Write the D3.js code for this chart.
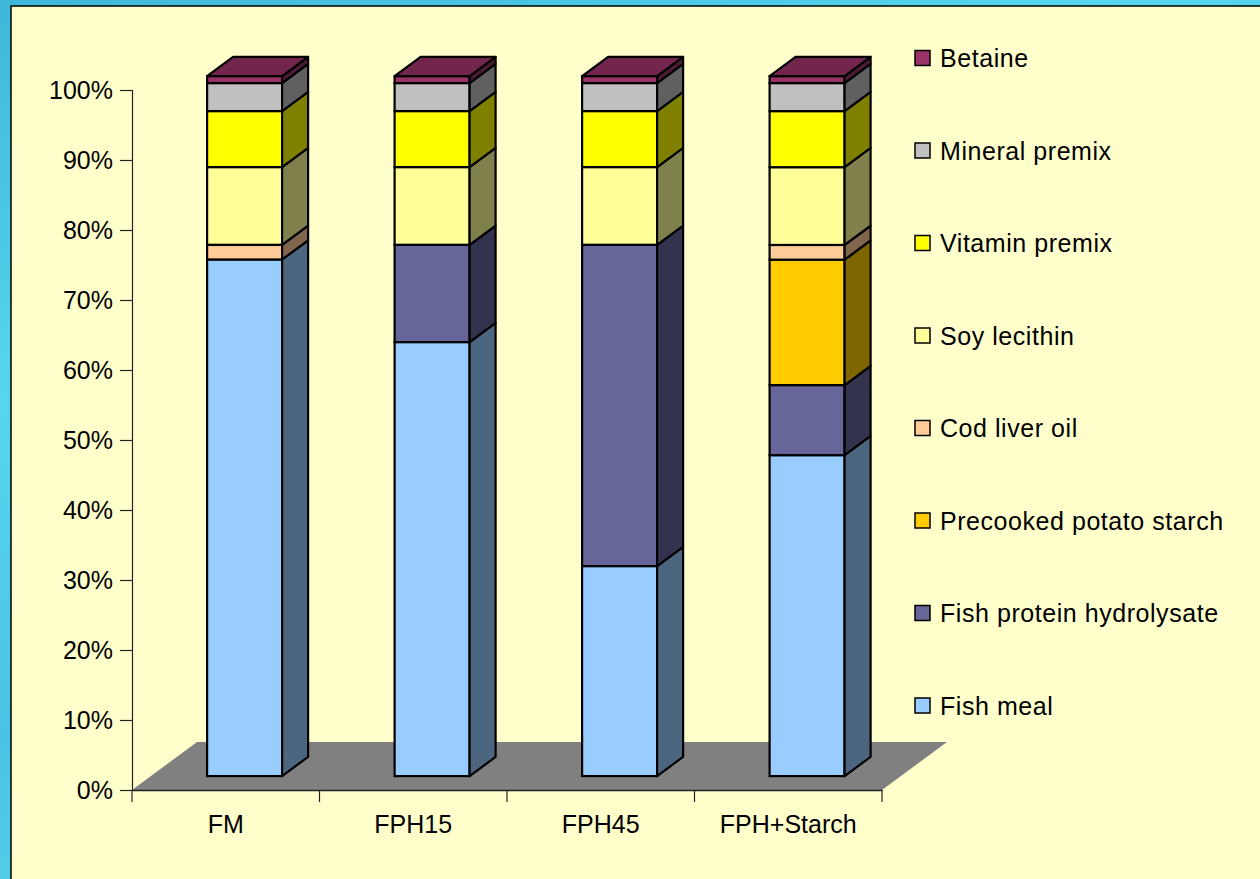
<!DOCTYPE html>
<html>
<head>
<meta charset="utf-8">
<script src="https://cdn.jsdelivr.net/npm/d3@7"></script>
<style>
  html, body { margin: 0; padding: 0; }
  body {
    width: 1260px; height: 879px; overflow: hidden;
    background: linear-gradient(160deg, #3fb7d8 0%, #55d6ee 30%, #4cc3e4 55%, #5ad8ec 80%, #44bcdc 100%);
  }
  svg { display: block; }
  text { font-family: "Liberation Sans", Arial, sans-serif; fill: #000; }
</style>
</head>
<body>
<svg id="chart" width="1260" height="879"></svg>
<script>
// Diet formulations (% of ingredients)
const diets = ["FM", "FPH15", "FPH45", "FPH+Starch"];
const fishMeal = [73.8, 62.0, 30.0, 45.8];
const fishProteinHydrolysate = [0, 13.9, 45.9, 10.0];
const potatoStarch = [0, 0, 0, 17.9];
const codLiverOil = [2.1, 0, 0, 2.1];
const soyLecithin = [11.1, 11.1, 11.1, 11.1];
const vitaminPremix = [8, 8, 8, 8];
const mineralPremix = [4, 4, 4, 4];
const betaine = [1, 1, 1, 1];

const seriesNames = ["Fish meal", "Fish protein hydrolysate", "Precooked potato starch",
  "Cod liver oil", "Soy lecithin", "Vitamin premix", "Mineral premix", "Betaine"];
const seriesValues = [fishMeal, fishProteinHydrolysate, potatoStarch, codLiverOil,
  soyLecithin, vitaminPremix, mineralPremix, betaine];
const seriesColors = ["#99ccff", "#666699", "#ffcc00", "#ffcc99", "#ffff99", "#ffff00", "#c0c0c0", "#993366"];
const yTicks = [0, 0.1, 0.2, 0.3, 0.4, 0.5, 0.6, 0.7, 0.8, 0.9, 1.0];

const rows = diets.map((d, i) => {
  const r = { diet: d };
  seriesNames.forEach((s, k) => { r[s] = seriesValues[k][i]; });
  return r;
});

const svg = d3.select("#chart");

// chart panel
svg.append("rect").attr("x", 11).attr("y", 6).attr("width", 1300).attr("height", 900)
  .attr("fill", "#ffffcc").attr("stroke", "#000").attr("stroke-width", 1.5);

const plot = { left: 132, right: 882, top: 90, bottom: 790 };
const depth = { x: 65, y: -48 };         // floor depth vector
const barFront = 0.29, barDepth = 0.4;   // bar placement inside the depth

const x = d3.scaleBand().domain(diets).range([plot.left, plot.right])
  .paddingInner(0.6).paddingOuter(0.3);
const y = d3.scaleLinear().domain([0, 1]).range([plot.bottom, plot.top]);

const stack = d3.stack().keys(seriesNames).offset(d3.stackOffsetExpand);
const layers = stack(rows);

// floor
svg.append("path")
  .attr("d", d3.line()([
    [plot.left, plot.bottom], [plot.right, plot.bottom],
    [plot.right + depth.x, plot.bottom + depth.y], [plot.left + depth.x, plot.bottom + depth.y]
  ]) + "Z")
  .attr("fill", "#808080");

// y axis
const yAxis = svg.append("g").attr("transform", `translate(${plot.left},0)`)
  .call(d3.axisLeft(y).tickValues(yTicks).tickFormat(d3.format(".0%")).tickSize(12).tickPadding(7));
yAxis.select(".domain").attr("stroke", "#222").attr("stroke-width", 1.2);
yAxis.selectAll(".tick line").attr("stroke", "#222").attr("stroke-width", 1.2);
yAxis.selectAll(".tick text").attr("font-size", 25).attr("font-family", "Liberation Sans, Arial, sans-serif").attr("fill", "#000");

// x axis: labels centred on bands, ticks on band boundaries
const xAxis = svg.append("g").attr("transform", `translate(0,${plot.bottom})`)
  .call(d3.axisBottom(x).tickSize(0).tickPadding(25));
xAxis.select(".domain").attr("stroke", "#222").attr("stroke-width", 1.5);
xAxis.selectAll(".tick text").attr("font-size", 25).attr("font-family", "Liberation Sans, Arial, sans-serif").attr("fill", "#000");
const step = x.step();
xAxis.selectAll("line.bound").data(d3.range(diets.length + 1)).join("line")
  .attr("class", "bound")
  .attr("x1", k => plot.left + k * step).attr("x2", k => plot.left + k * step)
  .attr("y1", 0).attr("y2", 12).attr("stroke", "#222").attr("stroke-width", 1.2);

// 3D stacked bars
const shade = (c, f) => { const o = d3.rgb(c); return d3.rgb(o.r * f, o.g * f, o.b * f).toString(); };
const ox = depth.x * barFront, oy = depth.y * barFront;
const dx = depth.x * barDepth, dy = depth.y * barDepth;
const w = x.bandwidth();
const bars = svg.append("g");

diets.forEach((diet, i) => {
  const x0 = x(diet) + ox;
  const g = bars.append("g");
  let topY = null, topColor = null;
  layers.forEach((layer, k) => {
    const seg = layer[i];
    if (seg[1] - seg[0] <= 0) return;
    const yb = y(seg[0]) + oy, yt = y(seg[1]) + oy;
    const col = seriesColors[k];
    g.append("rect").attr("x", x0).attr("y", yt).attr("width", w).attr("height", yb - yt)
      .attr("fill", col).attr("stroke", "#000").attr("stroke-width", 2.2);
    g.append("path")
      .attr("d", d3.line()([[x0 + w, yb], [x0 + w + dx, yb + dy], [x0 + w + dx, yt + dy], [x0 + w, yt]]) + "Z")
      .attr("fill", shade(col, 0.5)).attr("stroke", "#000").attr("stroke-width", 2.2)
      .attr("stroke-linejoin", "round");
    topY = yt; topColor = col;
  });
  g.append("path")
    .attr("d", d3.line()([[x0, topY], [x0 + dx, topY + dy], [x0 + w + dx, topY + dy], [x0 + w, topY]]) + "Z")
    .attr("fill", shade(topColor, 0.75)).attr("stroke", "#000").attr("stroke-width", 2.2)
    .attr("stroke-linejoin", "round");
});

// legend (top entry is the top of the stack)
const legendOrder = seriesNames.map((n, k) => ({ name: n, color: seriesColors[k] })).reverse();
const legend = svg.append("g").selectAll("g").data(legendOrder).join("g")
  .attr("transform", (d, k) => `translate(915,${58 + k * 92.5})`);
legend.append("rect").attr("x", 0).attr("y", -7.5).attr("width", 15).attr("height", 15)
  .attr("fill", d => d.color).attr("stroke", "#000").attr("stroke-width", 1.5);
legend.append("text").attr("x", 25).attr("dy", "0.36em").attr("font-size", 25)
  .attr("letter-spacing", 0.55).text(d => d.name);
</script>
</body>
</html>
